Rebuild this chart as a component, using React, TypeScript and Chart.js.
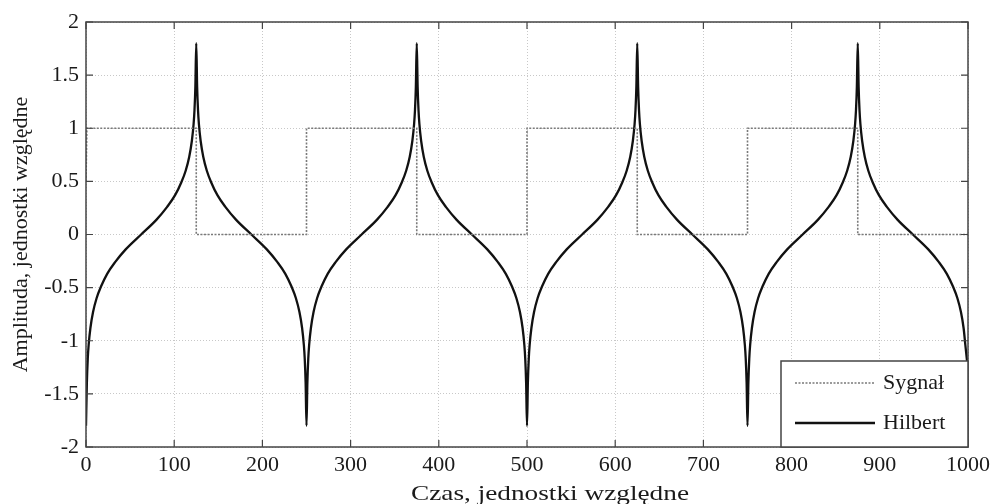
import React, { useEffect, useRef } from "react";
import { Chart, registerables } from "chart.js";

Chart.register(...registerables);

// Square-wave input signal ("Sygnał")
const signalX = [0, 1, 125, 125, 250, 250, 375, 375, 500, 500, 625, 625, 750, 750, 875, 875, 1000];
const signalY = [0.5, 1, 1, 0, 0, 1, 1, 0, 0, 1, 1, 0, 0, 1, 1, 0, 0];

// Hilbert transform ("Hilbert")
const hilbertX = [
  0, 1, 2, 3, 5, 8, 12, 17, 24, 33, 45, 62.5, 80, 92, 101, 108, 113, 117, 120, 122, 123, 124, 125,
  126, 127, 128, 130, 133, 137, 142, 149, 158, 170, 187.5, 205, 217, 226, 233, 238, 242, 245, 247, 248, 249, 250,
  251, 252, 253, 255, 258, 262, 267, 274, 283, 295, 312.5, 330, 342, 351, 358, 363, 367, 370, 372, 373, 374, 375,
  376, 377, 378, 380, 383, 387, 392, 399, 408, 420, 437.5, 455, 467, 476, 483, 488, 492, 495, 497, 498, 499, 500,
  501, 502, 503, 505, 508, 512, 517, 524, 533, 545, 562.5, 580, 592, 601, 608, 613, 617, 620, 622, 623, 624, 625,
  626, 627, 628, 630, 633, 637, 642, 649, 658, 670, 687.5, 705, 717, 726, 733, 738, 742, 745, 747, 748, 749, 750,
  751, 752, 753, 755, 758, 762, 767, 774, 783, 795, 812.5, 830, 842, 851, 858, 863, 867, 870, 872, 873, 874, 875,
  876, 877, 878, 880, 883, 887, 892, 899, 908, 920, 937.5, 955, 967, 976, 983, 988, 992, 995, 997, 998, 999,
];
const hilbertY = [
  -1.8, -1.39, -1.17, -1.04, -0.88, -0.73, -0.6, -0.49, -0.37, -0.26, -0.14, 0, 0.14, 0.26, 0.37, 0.49, 0.6, 0.73, 0.88, 1.04, 1.17, 1.39, 1.8,
  1.39, 1.17, 1.04, 0.88, 0.73, 0.6, 0.49, 0.37, 0.26, 0.14, 0, -0.14, -0.26, -0.37, -0.49, -0.6, -0.73, -0.88, -1.04, -1.17, -1.39, -1.8,
  -1.39, -1.17, -1.04, -0.88, -0.73, -0.6, -0.49, -0.37, -0.26, -0.14, 0, 0.14, 0.26, 0.37, 0.49, 0.6, 0.73, 0.88, 1.04, 1.17, 1.39, 1.8,
  1.39, 1.17, 1.04, 0.88, 0.73, 0.6, 0.49, 0.37, 0.26, 0.14, 0, -0.14, -0.26, -0.37, -0.49, -0.6, -0.73, -0.88, -1.04, -1.17, -1.39, -1.8,
  -1.39, -1.17, -1.04, -0.88, -0.73, -0.6, -0.49, -0.37, -0.26, -0.14, 0, 0.14, 0.26, 0.37, 0.49, 0.6, 0.73, 0.88, 1.04, 1.17, 1.39, 1.8,
  1.39, 1.17, 1.04, 0.88, 0.73, 0.6, 0.49, 0.37, 0.26, 0.14, 0, -0.14, -0.26, -0.37, -0.49, -0.6, -0.73, -0.88, -1.04, -1.17, -1.39, -1.8,
  -1.39, -1.17, -1.04, -0.88, -0.73, -0.6, -0.49, -0.37, -0.26, -0.14, 0, 0.14, 0.26, 0.37, 0.49, 0.6, 0.73, 0.88, 1.04, 1.17, 1.39, 1.8,
  1.39, 1.17, 1.04, 0.88, 0.73, 0.6, 0.49, 0.37, 0.26, 0.14, 0, -0.14, -0.26, -0.37, -0.49, -0.6, -0.73, -0.88, -1.04, -1.12, -1.2,
];

const xTicks = [0, 100, 200, 300, 400, 500, 600, 700, 800, 900, 1000];
const yTicks = [-2, -1.5, -1, -0.5, 0, 0.5, 1, 1.5, 2];
const seriesLabels = ["Sygnał", "Hilbert"];
const xTitle = "Czas, jednostki względne";
const yTitle = "Amplituda, jednostki względne";

const FONT = "'Liberation Serif', 'Times New Roman', serif";
const TEXT = "#1a1a1a";
const FRAME = "#444444";

const framePlugin = {
  id: "frameAndLegend",
  afterDatasetsDraw(chart: any) {
    const { ctx, chartArea: a, scales } = chart;
    const xs = scales.x;
    const ys = scales.y;
    ctx.save();
    // frame
    ctx.strokeStyle = FRAME;
    ctx.lineWidth = 1.5;
    ctx.setLineDash([]);
    ctx.strokeRect(a.left, a.top, a.right - a.left, a.bottom - a.top);
    // inward ticks
    const tl = 7;
    ctx.lineWidth = 1.2;
    ctx.beginPath();
    xTicks.forEach((v) => {
      const px = xs.getPixelForValue(v);
      ctx.moveTo(px, a.bottom);
      ctx.lineTo(px, a.bottom - tl);
      ctx.moveTo(px, a.top);
      ctx.lineTo(px, a.top + tl);
    });
    yTicks.forEach((v) => {
      const py = ys.getPixelForValue(v);
      ctx.moveTo(a.left, py);
      ctx.lineTo(a.left + tl, py);
      ctx.moveTo(a.right, py);
      ctx.lineTo(a.right - tl, py);
    });
    ctx.stroke();

    // legend box (bottom-right, inside plot)
    const bw = 187;
    const bh = 86;
    const bx = a.right - bw;
    const by = a.bottom - bh;
    ctx.fillStyle = "#ffffff";
    ctx.fillRect(bx, by, bw, bh);
    ctx.strokeStyle = FRAME;
    ctx.lineWidth = 1.5;
    ctx.strokeRect(bx, by, bw, bh);
    const rows = [by + 22, by + 62];
    chart.data.datasets.forEach((ds: any, i: number) => {
      const y = rows[i];
      ctx.beginPath();
      ctx.strokeStyle = ds.borderColor;
      ctx.lineWidth = ds.borderWidth;
      ctx.setLineDash(ds.borderDash || []);
      ctx.moveTo(bx + 14, y);
      ctx.lineTo(bx + 94, y);
      ctx.stroke();
      ctx.setLineDash([]);
      ctx.fillStyle = TEXT;
      ctx.font = `22px ${FONT}`;
      ctx.textAlign = "left";
      ctx.textBaseline = "middle";
      ctx.fillText(ds.label, bx + 102, y);
    });

    // x-axis title (slightly wide lettering, as in the original)
    ctx.font = `22px ${FONT}`;
    ctx.fillStyle = TEXT;
    ctx.textAlign = "center";
    ctx.textBaseline = "alphabetic";
    const w = ctx.measureText(xTitle).width;
    const target = 278;
    ctx.translate(550, 500);
    ctx.scale(target / w, 1);
    ctx.fillText(xTitle, 0, 0);
    ctx.restore();
  },
};

export default function App() {
  const ref = useRef<HTMLCanvasElement | null>(null);
  useEffect(() => {
    if (!ref.current) return;
    const chart = new Chart(ref.current, {
      type: "line",
      data: {
        datasets: [
          {
            label: seriesLabels[0],
            data: signalX.map((x, i) => ({ x, y: signalY[i] })),
            borderColor: "#7a7a7a",
            borderWidth: 1.6,
            borderDash: [2, 1.5],
            pointRadius: 0,
            fill: false,
            tension: 0,
          },
          {
            label: seriesLabels[1],
            data: hilbertX.map((x, i) => ({ x, y: hilbertY[i] })),
            borderColor: "#111111",
            borderWidth: 2.3,
            pointRadius: 0,
            fill: false,
            cubicInterpolationMode: "monotone",
          },
        ],
      },
      options: {
        animation: false,
        responsive: true,
        maintainAspectRatio: false,
        layout: { padding: { top: 22, right: 25, left: 0, bottom: 0 } },
        plugins: {
          legend: { display: false },
          tooltip: { enabled: false },
        },
        scales: {
          x: {
            type: "linear",
            min: 0,
            max: 1000,
            afterFit: (s: any) => {
              s.height = 57;
            },
            afterBuildTicks: (s: any) => {
              s.ticks = xTicks.map((v) => ({ value: v }));
            },
            ticks: {
              color: TEXT,
              font: { family: FONT, size: 22 },
              padding: 5,
              maxRotation: 0,
              autoSkip: false,
              callback: (v: any) => String(v),
            },
            grid: {
              color: "#c8c8c8",
              lineWidth: 1,
              drawTicks: false,
            },
            border: { display: false, dash: [1, 2] },
            title: { display: false, text: xTitle },
          },
          y: {
            type: "linear",
            min: -2,
            max: 2,
            afterFit: (s: any) => {
              s.width = 86;
            },
            afterBuildTicks: (s: any) => {
              s.ticks = yTicks.map((v) => ({ value: v }));
            },
            ticks: {
              color: TEXT,
              font: { family: FONT, size: 22 },
              padding: 7,
              autoSkip: false,
              callback: (v: any) => String(v),
            },
            grid: {
              color: "#c8c8c8",
              lineWidth: 1,
              drawTicks: false,
            },
            border: { display: false, dash: [1, 2] },
            title: {
              display: true,
              text: yTitle,
              color: TEXT,
              font: { family: FONT, size: 22 },
              padding: { top: 8, bottom: 0 },
            },
          },
        },
      },
      plugins: [framePlugin],
    } as any);
    return () => chart.destroy();
  }, []);

  return (
    <div style={{ position: "fixed", left: 0, top: 0, width: 995, height: 504, background: "#fff" }}>
      <canvas ref={ref} />
    </div>
  );
}
